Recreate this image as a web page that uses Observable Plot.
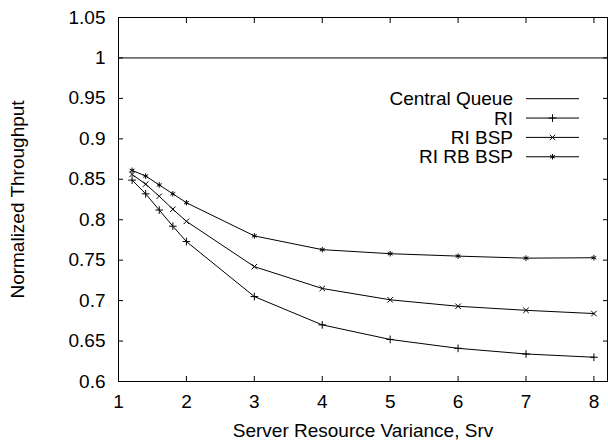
<!DOCTYPE html>
<html><head><meta charset="utf-8">
<script src="https://cdn.jsdelivr.net/npm/d3@7"></script>
<script src="https://cdn.jsdelivr.net/npm/@observablehq/plot@0.6"></script>
<style>
body{margin:0;background:#fff;}
#chart{position:relative;width:608px;height:443px;}
#legend{position:absolute;left:0;top:0;}
</style></head><body><div id="chart"></div>
<script>
const srv = [1.2, 1.4, 1.6, 1.8, 2, 3, 4, 5, 6, 7, 8];
const ri = [0.849, 0.832, 0.812, 0.792, 0.773, 0.705, 0.670, 0.652, 0.641, 0.634, 0.630];
const riBsp = [0.856, 0.844, 0.829, 0.813, 0.798, 0.742, 0.715, 0.701, 0.693, 0.688, 0.684];
const riRbBsp = [0.861, 0.854, 0.843, 0.832, 0.821, 0.780, 0.763, 0.758, 0.755, 0.7525, 0.753];
const centralQueue = [1.0];
const xTicks = [1, 2, 3, 4, 5, 6, 7, 8];
const yTicks = [0.6, 0.65, 0.7, 0.75, 0.8, 0.85, 0.9, 0.95, 1, 1.05];
const seriesNames = ["Central Queue", "RI", "RI BSP", "RI RB BSP"];
const seriesSymbols = [null, "plus", "times", "asterisk"];

const seriesValues = [ri, riBsp, riRbBsp];
const rows = [];
seriesValues.forEach((vals, k) => {
  vals.forEach((v, i) => rows.push({series: seriesNames[k + 1], x: srv[i], y: v, symbol: seriesSymbols[k + 1]}));
});

const font = '"Liberation Sans", Arial, Helvetica, sans-serif';
const dotR = 2.6;
const plot = Plot.plot({
  width: 608, height: 443,
  marginLeft: 118, marginRight: 1, marginTop: 17, marginBottom: 62,
  style: {fontFamily: font, fontSize: "19px", color: "#000", background: "#fff", overflow: "visible"},
  x: {domain: [1, 8.2]},
  y: {domain: [0.6, 1.05]},
  marks: [
    Plot.axisX(xTicks, {anchor: "bottom", tickSize: -5, tickPadding: 18, label: "Server Resource Variance, Srv", labelAnchor: "center", labelOffset: 55, labelArrow: "none"}),
    Plot.axisX(xTicks, {anchor: "top", tickSize: -5, tickFormat: () => "", label: null}),
    Plot.axisY(yTicks, {anchor: "left", tickSize: -5, tickPadding: 18, tickFormat: d => String(+d.toFixed(2)), label: "Normalized Throughput", labelAnchor: "center", labelOffset: 108, labelArrow: "none"}),
    Plot.axisY(yTicks, {anchor: "right", tickSize: -5, tickFormat: () => "", label: null}),
    Plot.ruleY(centralQueue, {stroke: "#000", strokeWidth: 1}),
    Plot.line(rows, {x: "x", y: "y", z: "series", stroke: "#000", strokeWidth: 1}),
    Plot.dot(rows, {x: "x", y: "y", symbol: "symbol", r: dotR, stroke: "#000", strokeWidth: 1, fill: "none"}),
    Plot.frame({stroke: "#000", strokeWidth: 1})
  ]
});
const chart = document.getElementById("chart");
chart.appendChild(plot);

// legend overlay
const leg = d3.select(chart).append("svg").attr("id", "legend").attr("width", 608).attr("height", 443)
  .style("font-family", font).style("font-size", "19px");
const symMap = {plus: d3.symbolPlus, times: d3.symbolTimes, asterisk: d3.symbolAsterisk};
seriesNames.forEach((name, i) => {
  const cy = 98.7 + i * 19.35;
  const g = leg.append("g").attr("transform", `translate(0,${cy})`);
  g.append("text").attr("x", 513).attr("y", 0).attr("dy", "0.35em").attr("text-anchor", "end").attr("fill", "#000").text(name);
  g.append("line").attr("x1", 526).attr("x2", 579).attr("y1", 0).attr("y2", 0).attr("stroke", "#000").attr("stroke-width", 1);
  const s = seriesSymbols[i];
  if (s) g.append("path").attr("transform", "translate(552.5,0)").attr("d", d3.symbol(symMap[s], Math.PI * dotR * dotR)()).attr("fill", "none").attr("stroke", "#000").attr("stroke-width", 1);
});
</script></body></html>
